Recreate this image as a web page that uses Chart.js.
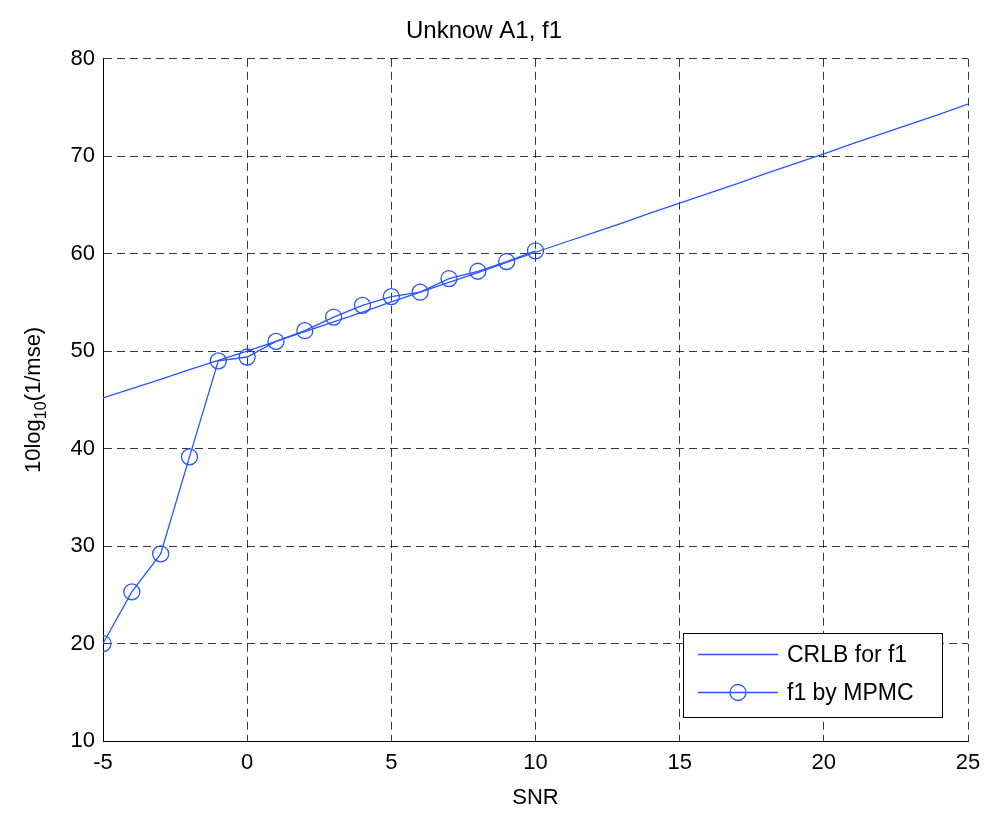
<!DOCTYPE html>
<html>
<head>
<meta charset="utf-8">
<script src="https://cdn.jsdelivr.net/npm/chart.js@4/dist/chart.umd.min.js"></script>
<style>
html,body{margin:0;padding:0;background:#fff;}
#wrap{width:996px;height:815px;}
</style>
</head>
<body>
<div id="wrap"><canvas id="c" width="996" height="815"></canvas></div>
<script>
const titleText = "Unknow A1, f1";
const xTitle = "SNR";
const crlbLabel = "CRLB for f1";
const mpmcLabel = "f1 by MPMC";

const crlbSnr = [-5,-4,-3,-2,-1,0,1,2,3,4,5,6,7,8,9,10,11,12,13,14,15,16,17,18,19,20,21,22,23,24,25];
const crlbVals = [45.2,46.15,47.1,48.1,49.05,50.0,51.0,52.0,53.0,54.0,55.05,56.05,57.05,58.05,59.1,60.15,61.15,62.15,63.15,64.2,65.2,66.2,67.2,68.25,69.25,70.25,71.3,72.3,73.3,74.3,75.35];

const mpmcSnr = [-5,-4,-3,-2,-1,0,1,2,3,4,5,6,7,8,9,10];
const mpmcVals = [20.0,25.3,29.2,39.15,49.0,49.4,51.0,52.1,53.5,54.7,55.6,56.05,57.45,58.2,59.2,60.3];

const xTicks = [-5,0,5,10,15,20,25];
const yTicks = [10,20,30,40,50,60,70,80];

const blue = 'rgb(40,85,255)';
const FONT = "'Liberation Sans', Arial, Helvetica, sans-serif";

const toPts = (xs, ys) => xs.map((x, i) => ({x: x, y: ys[i]}));

const yTitlePlugin = {
  id: 'yTitleSub',
  afterDraw(chart) {
    const ctx = chart.ctx, ca = chart.chartArea;
    ctx.save();
    const cy = (ca.top + ca.bottom) / 2;
    ctx.translate(32, cy);
    ctx.rotate(-Math.PI / 2);
    ctx.fillStyle = '#000';
    ctx.textBaseline = 'alphabetic';
    const big = "22px " + FONT, small = "16px " + FONT;
    const parts = [["10log", big, 0], ["10", small, 6], ["(1/mse)", big, 0]];
    let w = 0;
    parts.forEach(p => { ctx.font = p[1]; w += ctx.measureText(p[0]).width; });
    let x = -w / 2;
    parts.forEach(p => { ctx.font = p[1]; ctx.fillText(p[0], x, 8 + p[2]); x += ctx.measureText(p[0]).width; });
    ctx.restore();
  }
};

const legendPlugin = {
  id: 'boxLegend',
  afterDraw(chart) {
    const ctx = chart.ctx, ca = chart.chartArea;
    const right = ca.right - 26, bottom = ca.bottom - 24;
    const w = 259, h = 84;
    const left = right - w, top = bottom - h;
    ctx.save();
    ctx.fillStyle = '#fff';
    ctx.fillRect(left, top, w, h);
    ctx.strokeStyle = '#000';
    ctx.lineWidth = 1;
    ctx.strokeRect(left + 0.5, top + 0.5, w, h);
    const rows = chart.data.datasets.map((ds, i) => ({ds, y: top + 21.5 + i * 38}));
    rows.forEach(r => {
      ctx.strokeStyle = r.ds.borderColor;
      ctx.lineWidth = r.ds.borderWidth;
      ctx.beginPath();
      ctx.moveTo(left + 15, r.y);
      ctx.lineTo(left + 95, r.y);
      ctx.stroke();
      if (r.ds.pointRadius > 0) {
        ctx.lineWidth = r.ds.pointBorderWidth;
        ctx.beginPath();
        ctx.arc(left + 55, r.y, r.ds.pointRadius, 0, Math.PI * 2);
        ctx.stroke();
      }
      ctx.fillStyle = '#000';
      ctx.font = "23px " + FONT;
      ctx.textBaseline = 'middle';
      ctx.textAlign = 'left';
      ctx.fillText(r.ds.label, left + 104, r.y + 1);
    });
    ctx.restore();
  }
};

new Chart(document.getElementById('c'), {
  type: 'line',
  data: {
    datasets: [
      {
        label: crlbLabel,
        data: toPts(crlbSnr, crlbVals),
        borderColor: blue,
        borderWidth: 1.3,
        pointRadius: 0,
        pointBorderWidth: 0,
        fill: false,
        tension: 0
      },
      {
        label: mpmcLabel,
        data: toPts(mpmcSnr, mpmcVals),
        borderColor: blue,
        borderWidth: 1.3,
        pointRadius: 8,
        pointBorderWidth: 1.3,
        pointBorderColor: blue,
        pointBackgroundColor: 'rgba(0,0,0,0)',
        pointStyle: 'circle',
        fill: false,
        tension: 0
      }
    ]
  },
  options: {
    responsive: false,
    animation: false,
    layout: {padding: {left: 0, right: 28, top: 0, bottom: 0}},
    plugins: {
      legend: {display: false},
      tooltip: {enabled: false},
      title: {
        display: true,
        text: titleText,
        color: '#000',
        font: {family: FONT, size: 24, weight: 'normal'},
        padding: {top: 17, bottom: 13}
      }
    },
    scales: {
      x: {
        type: 'linear',
        min: -5, max: 25,
        afterBuildTicks(s) { s.ticks = xTicks.map(v => ({value: v})); },
        afterFit(s) { s.height = 74; },
        ticks: {color: '#000', font: {family: FONT, size: 22}, padding: 9, maxRotation: 0},
        grid: {color: 'rgba(0,0,0,0.78)', lineWidth: 1, drawTicks: false},
        border: {display: true, color: '#000', width: 1, dash: [8, 5]},
        title: {display: true, text: xTitle, color: '#000', font: {family: FONT, size: 22}, padding: {top: 6}}
      },
      y: {
        type: 'linear',
        min: 10, max: 80,
        afterBuildTicks(s) { s.ticks = yTicks.map(v => ({value: v})); },
        afterFit(s) { s.width = 103; },
        ticks: {color: '#000', font: {family: FONT, size: 22}, padding: 8},
        grid: {color: 'rgba(0,0,0,0.78)', lineWidth: 1, drawTicks: false},
        border: {display: true, color: '#000', width: 1, dash: [8, 5]}
      }
    }
  },
  plugins: [yTitlePlugin, legendPlugin]
});
</script>
</body>
</html>
